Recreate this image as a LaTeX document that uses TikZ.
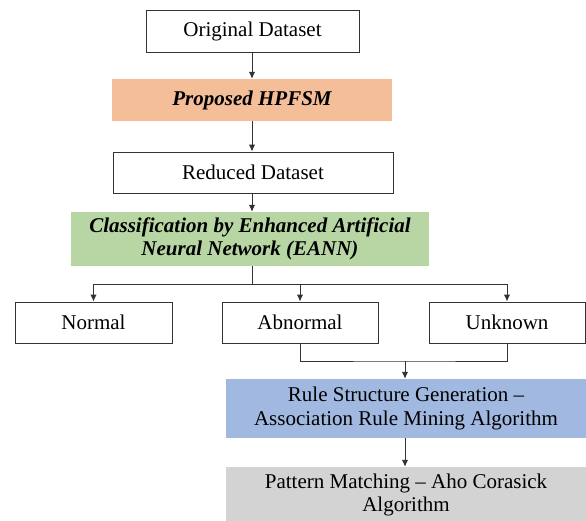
\documentclass[tikz,border=0pt]{standalone}
\usepackage{fontspec}
\setmainfont{Liberation Serif}
\usetikzlibrary{arrows.meta}
\definecolor{peach}{HTML}{F4BE99}
\definecolor{leaf}{HTML}{B8D6A4}
\definecolor{sky}{HTML}{A1B8E0}
\definecolor{ash}{HTML}{D3D3D3}
\definecolor{edge}{HTML}{333333}
\begin{document}
\begin{tikzpicture}[x=1pt,y=-1pt,
  txt/.style={inner sep=0pt, align=center, font=\fontsize{21}{23.5}\selectfont},
  plainbox/.style={txt, draw=edge, line width=1pt, fill=white},
  fillbox/.style={txt, draw=none},
  conn/.style={draw=edge, line width=1pt},
  arr/.style={conn, -{Latex[length=7pt,width=6.5pt]}}]
\useasboundingbox (0,0) rectangle (586,520);
\clip (0,0) rectangle (586,520);

\node[plainbox, minimum width=213pt, minimum height=42pt] (orig) at (252.5,31) {Original Dataset};
\node[fillbox, fill=peach, minimum width=280pt, minimum height=42pt] (hpfsm) at (252,100) {\bfseries\itshape Proposed HPFSM};
\node[plainbox, minimum width=280pt, minimum height=41pt] (red) at (253,172.5) {Reduced Dataset};
\node[fillbox, fill=leaf, minimum width=358pt, minimum height=54pt] (cls) at (250,239) {\bfseries\itshape Classification by Enhanced Artificial\\\bfseries\itshape Neural Network (EANN)};
\node[plainbox, minimum width=157pt, minimum height=41pt] (norm) at (93.5,322.5) {Normal};
\node[plainbox, minimum width=156pt, minimum height=41pt] (abn) at (300,322.5) {Abnormal};
\node[plainbox, minimum width=156pt, minimum height=41pt] (unk) at (507,322.5) {Unknown};
\node[fillbox, fill=sky, minimum width=360pt, minimum height=59pt] (rule) at (406,408.5) {Rule Structure Generation --\\Association Rule Mining Algorithm};
\node[fillbox, fill=ash, minimum width=360pt, minimum height=56pt] (pat) at (406,495) {Pattern Matching -- Aho Corasick\\Algorithm};

\coordinate (split) at (252,284.5);
\coordinate (join) at (405,361);

\draw[arr] (orig.south -| hpfsm.north) -- (hpfsm.north);
\draw[arr] (hpfsm.south) -- (red.north -| hpfsm.south);
\draw[arr] (red.south -| hpfsm.south) -- (cls.north -| hpfsm.south);
\draw[conn] (cls.south -| split) -- (split);
\draw[arr] (split) -| (norm.north);
\draw[arr] (split) -| (abn.north);
\draw[arr] (split) -| (unk.north);
\draw[conn] (abn.south) |- (join) -| (unk.south);
\draw[arr] (join) -- (rule.north -| join);
\draw[arr] (rule.south -| join) -- (pat.north -| join);
\end{tikzpicture}
\end{document}
